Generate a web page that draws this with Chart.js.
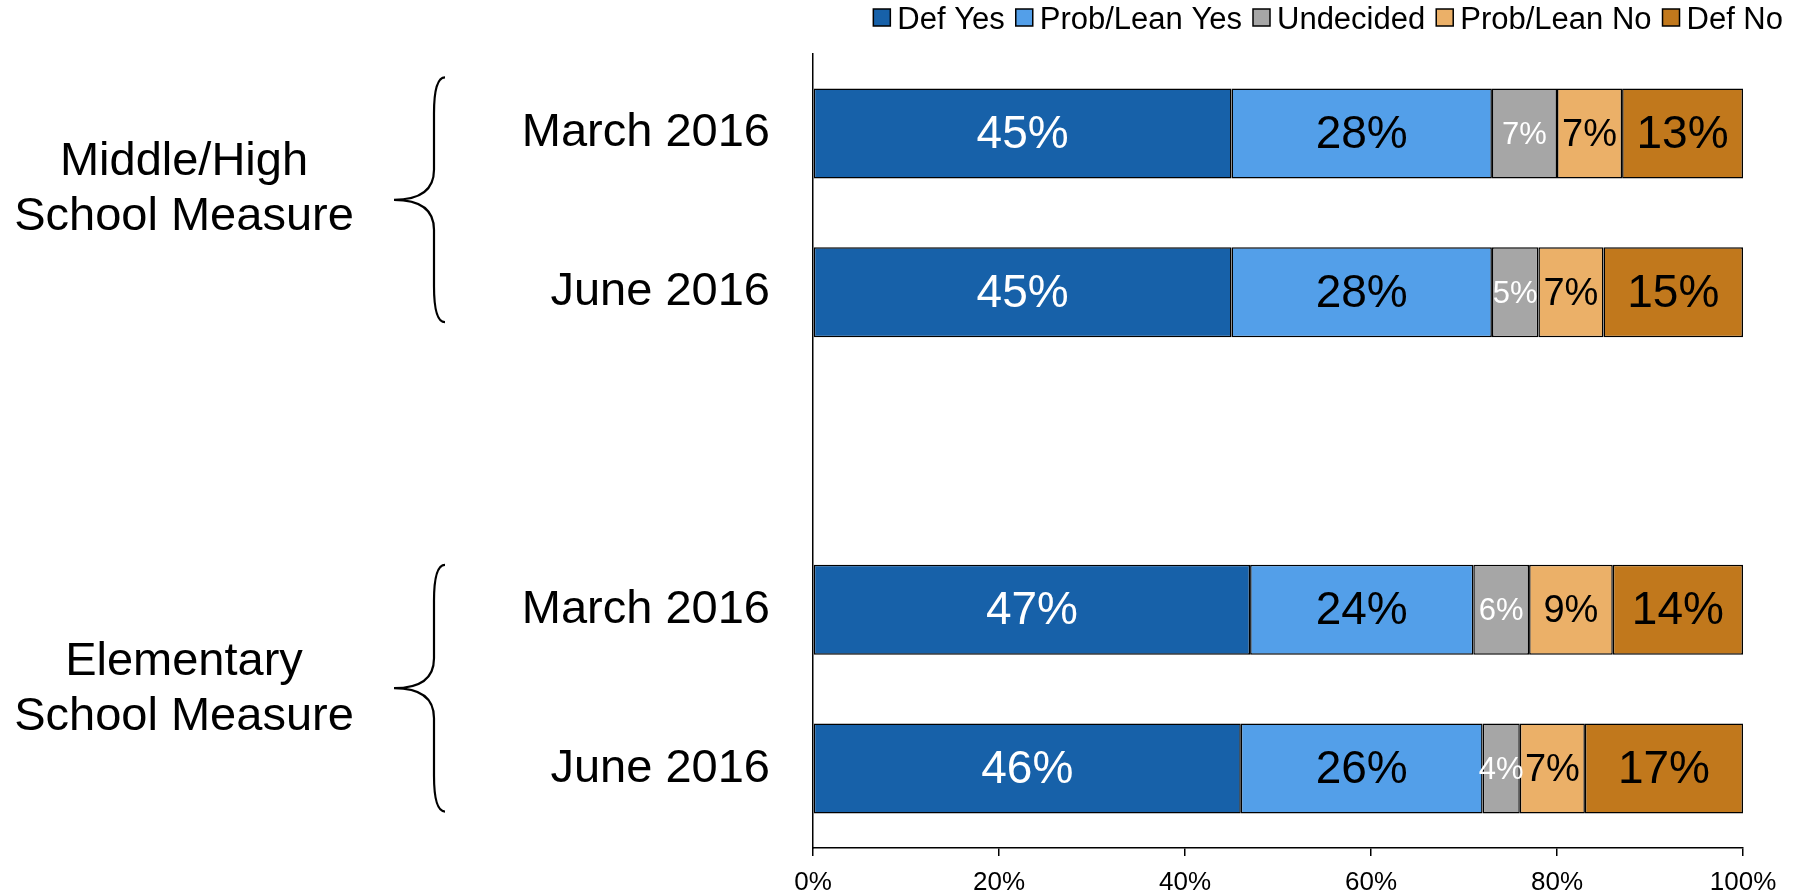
<!DOCTYPE html>
<html>
<head>
<meta charset="utf-8">
<script src="https://cdn.jsdelivr.net/npm/chart.js@4/dist/chart.umd.min.js"></script>
<style>
  body { margin: 0; background: #fff; }
  #wrap { width: 1806px; height: 893px; position: relative; }
</style>
</head>
<body>
<div id="wrap"><canvas id="chart"></canvas></div>
<script>
// Rows (the blank one is the gap between the two measures)
const rows = ['March 2016', 'June 2016', '', 'March 2016', 'June 2016'];
const seriesNames = ['Def Yes', 'Prob/Lean Yes', 'Undecided', 'Prob/Lean No', 'Def No'];

const defYes   = [45, 45, null, 47, 46];
const probYes  = [28, 28, null, 24, 26];
const undecided = [7, 5, null, 6, 4];
const probNo   = [7, 7, null, 9, 7];
const defNo    = [13, 15, null, 14, 17];

const xTicks = [0, 20, 40, 60, 80, 100];

const groupNames = [['Middle/High', 'School Measure'], ['Elementary', 'School Measure']];
const groupRows = [[0, 1], [3, 4]];

// look
const FONT = "'Liberation Sans', Arial, sans-serif";
const colors = ['#1761A9', '#539FE9', '#A6A6A6', '#EBB068', '#C1781C'];
const labelColors = ['#fff', '#000', '#fff', '#000', '#000'];
const labelSizes = [46, 46, 31, 38, 46];
// brace offsets from row centres (top, bottom) and text shift
const braceLayout = [
  { top: -56, bottom: 30, textDy: -24 },
  { top: -45, bottom: 43, textDy: 0 }
];

const allSeries = [defYes, probYes, undecided, probNo, defNo];

// value labels in the middle of every segment
const segmentLabels = {
  id: 'segmentLabels',
  afterDatasetsDraw(chart) {
    const ctx = chart.ctx;
    ctx.save();
    ctx.textAlign = 'center';
    ctx.textBaseline = 'middle';
    chart.data.datasets.forEach((ds, i) => {
      const meta = chart.getDatasetMeta(i);
      meta.data.forEach((bar, j) => {
        const v = ds.data[j];
        if (v == null) return;
        const p = bar.getCenterPoint();
        ctx.fillStyle = labelColors[i];
        ctx.font = labelSizes[i] + 'px ' + FONT;
        ctx.fillText(v + '%', p.x, p.y + 2);
      });
    });
    ctx.restore();
  }
};

// braces and group names on the left, legend on top
const sideDecor = {
  id: 'sideDecor',
  afterDraw(chart) {
    const ctx = chart.ctx;
    const y = chart.scales.y;
    ctx.save();

    groupRows.forEach((g, gi) => {
      const yA = y.getPixelForValue(g[0]);
      const yB = y.getPixelForValue(g[1]);
      const lay = braceLayout[gi];
      const top = yA + lay.top, bot = yB + lay.bottom, tip = (top + bot) / 2;
      const xEnd = 445, xMid = 434, xTip = 394, r1 = 36, r2 = 30;
      ctx.beginPath();
      ctx.moveTo(xEnd, top);
      ctx.quadraticCurveTo(xMid, top, xMid, top + r1);
      ctx.lineTo(xMid, tip - r2);
      ctx.quadraticCurveTo(xMid, tip, xTip, tip);
      ctx.quadraticCurveTo(xMid, tip, xMid, tip + r2);
      ctx.lineTo(xMid, bot - r1);
      ctx.quadraticCurveTo(xMid, bot, xEnd, bot);
      ctx.lineWidth = 2.2;
      ctx.strokeStyle = '#000';
      ctx.stroke();

      const cy = (yA + yB) / 2 + lay.textDy;
      ctx.fillStyle = '#000';
      ctx.font = '47px ' + FONT;
      ctx.textAlign = 'center';
      ctx.textBaseline = 'middle';
      ctx.fillText(groupNames[gi][0], 184, cy - 27);
      ctx.fillText(groupNames[gi][1], 184, cy + 28);
    });

    // legend
    ctx.font = '31px ' + FONT;
    ctx.textAlign = 'left';
    ctx.textBaseline = 'middle';
    const box = 17, gap = 7, itemGap = 11;
    const widths = chart.data.datasets.map(ds => ctx.measureText(ds.label).width);
    const total = widths.reduce((a, w) => a + box + gap + w, 0) + itemGap * (widths.length - 1);
    let x = 1783 - total;
    chart.data.datasets.forEach((ds, i) => {
      ctx.fillStyle = ds.backgroundColor;
      ctx.fillRect(x, 9, box, box);
      ctx.lineWidth = 1.5;
      ctx.strokeStyle = '#000';
      ctx.strokeRect(x, 9, box, box);
      ctx.fillStyle = '#000';
      ctx.fillText(ds.label, x + box + gap, 20);
      x += box + gap + widths[i] + itemGap;
    });
    ctx.restore();
  }
};

new Chart(document.getElementById('chart'), {
  type: 'bar',
  data: {
    labels: rows,
    datasets: seriesNames.map((name, i) => ({
      label: name,
      data: allSeries[i],
      backgroundColor: colors[i],
      borderColor: '#000',
      borderWidth: 1.5,
      borderSkipped: false,
      barPercentage: 0.567,
      categoryPercentage: 1
    }))
  },
  options: {
    indexAxis: 'y',
    responsive: true,
    maintainAspectRatio: false,
    animation: false,
    layout: { padding: { top: 54, right: 63, bottom: 0, left: 0 } },
    plugins: {
      legend: { display: false },
      tooltip: { enabled: false }
    },
    scales: {
      x: {
        stacked: true,
        min: 0,
        max: 100,
        afterBuildTicks: s => { s.ticks = xTicks.map(v => ({ value: v })); },
        afterFit: s => { s.height = 45; },
        grid: { drawOnChartArea: false, drawTicks: true, tickLength: 8, color: '#000', lineWidth: 1.5 },
        border: { display: true, color: '#000', width: 1.5 },
        ticks: {
          color: '#000',
          padding: 11,
          font: { family: FONT, size: 26 },
          callback: v => v + '%'
        }
      },
      y: {
        stacked: true,
        afterFit: s => { s.width = 813; s.paddingTop = 0; s.paddingBottom = 0; },
        grid: { display: false, drawTicks: false },
        border: { display: true, color: '#000', width: 1.5 },
        ticks: {
          color: '#000',
          padding: 43,
          autoSkip: false,
          font: { family: FONT, size: 47 }
        }
      }
    }
  },
  plugins: [segmentLabels, sideDecor]
});
</script>
</body>
</html>
